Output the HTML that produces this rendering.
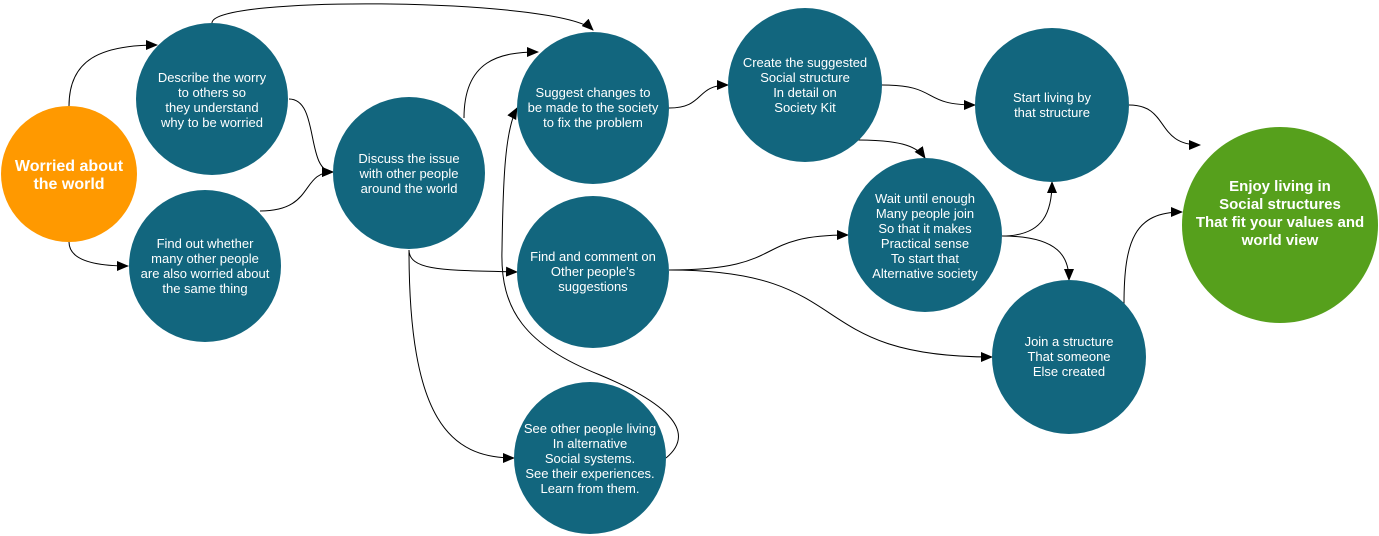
<!DOCTYPE html>
<html><head><meta charset="utf-8"><style>
html,body{margin:0;padding:0;background:#fff;}
svg{display:block;}
text{font-family:"Liberation Sans",sans-serif;fill:#fff;}
</style></head><body>
<svg width="1379" height="536" viewBox="0 0 1379 536">
<defs>
<marker id="ah" markerWidth="12" markerHeight="10" refX="11" refY="5" orient="auto" markerUnits="userSpaceOnUse">
<path d="M0,0 L12,5 L0,10 Z" fill="#000"/>
</marker>
</defs>
<g fill="none" stroke="#000" stroke-width="1" marker-end="url(#ah)">
<path d="M69,106 C69,60 100,45 157,45"/>
<path d="M69,242 C69,262 100,266 128,266"/>
<path d="M289,99 C320,99 305,172 333,172"/>
<path d="M260,211 C315,211 300,172 333,172"/>
<path d="M212,23 C212,-5 560,-2 593,30"/>
<path d="M464,118 C464,60 500,52 538,52"/>
<path d="M409,250 C409,272 450,270 517,272"/>
<path d="M409,250 C409,420 450,458 514,458"/>
<path d="M666,458 C700,430 660,400 600,375 C525,345 500,310 502,250 C503,180 505,130 517,108"/>
<path d="M669,108 C705,108 695,85 728,85"/>
<path d="M669,270 C790,270 750,235 848,235"/>
<path d="M669,270 C860,270 800,357 992,357"/>
<path d="M882,85 C940,85 920,105 975,105"/>
<path d="M858,140 C905,140 918,148 925,158"/>
<path d="M1002,236 C1045,236 1052,210 1052,182"/>
<path d="M1002,236 C1060,236 1069,258 1069,280"/>
<path d="M1129,105 C1170,105 1155,145 1200,145"/>
<path d="M1124,304 C1124,240 1135,212 1182,212"/>
</g>
<g>
<circle cx="69" cy="174" r="68" fill="#ff9900"/>
<text x="69" y="171" font-size="16" font-weight="bold" text-anchor="middle">Worried about</text>
<text x="69" y="189" font-size="16" font-weight="bold" text-anchor="middle">the world</text>
</g>
<g font-size="13" text-anchor="middle">
<g><circle cx="212" cy="99" r="76" fill="#12667e"/>
<text x="212" y="82">Describe the worry</text><text x="212" y="97">to others so</text><text x="212" y="112">they understand</text><text x="212" y="127">why to be worried</text></g>
<g><circle cx="205" cy="266" r="76" fill="#12667e"/>
<text x="205" y="248">Find out whether</text><text x="205" y="263">many other people</text><text x="205" y="278">are also worried about</text><text x="205" y="293">the same thing</text></g>
<g><circle cx="409" cy="173" r="76" fill="#12667e"/>
<text x="409" y="163">Discuss the issue</text><text x="409" y="178">with other people</text><text x="409" y="193">around the world</text></g>
<g><circle cx="593" cy="108" r="76" fill="#12667e"/>
<text x="593" y="97">Suggest changes to</text><text x="593" y="112">be made to the society</text><text x="593" y="127">to fix the problem</text></g>
<g><circle cx="593" cy="272" r="76" fill="#12667e"/>
<text x="593" y="261">Find and comment on</text><text x="593" y="276">Other people's</text><text x="593" y="291">suggestions</text></g>
<g><circle cx="590" cy="458" r="76" fill="#12667e"/>
<text x="590" y="433">See other people living</text><text x="590" y="448">In alternative</text><text x="590" y="463">Social systems.</text><text x="590" y="478">See their experiences.</text><text x="590" y="493">Learn from them.</text></g>
<g><circle cx="805" cy="85" r="77" fill="#12667e"/>
<text x="805" y="67">Create the suggested</text><text x="805" y="82">Social structure</text><text x="805" y="97">In detail on</text><text x="805" y="112">Society Kit</text></g>
<g><circle cx="925" cy="235" r="77" fill="#12667e"/>
<text x="925" y="203">Wait until enough</text><text x="925" y="218">Many people join</text><text x="925" y="233">So that it makes</text><text x="925" y="248">Practical sense</text><text x="925" y="263">To start that</text><text x="925" y="278">Alternative society</text></g>
<g><circle cx="1052" cy="105" r="77" fill="#12667e"/>
<text x="1052" y="102">Start living by</text><text x="1052" y="117">that structure</text></g>
<g><circle cx="1069" cy="357" r="77" fill="#12667e"/>
<text x="1069" y="346">Join a structure</text><text x="1069" y="361">That someone</text><text x="1069" y="376">Else created</text></g>
</g>
<g>
<circle cx="1280" cy="225" r="98" fill="#56a01c"/>
<g font-size="15" font-weight="bold" text-anchor="middle">
<text x="1280" y="191">Enjoy living in</text><text x="1280" y="209">Social structures</text><text x="1280" y="227">That fit your values and</text><text x="1280" y="245">world view</text></g>
</g>
</svg>
</body></html>
